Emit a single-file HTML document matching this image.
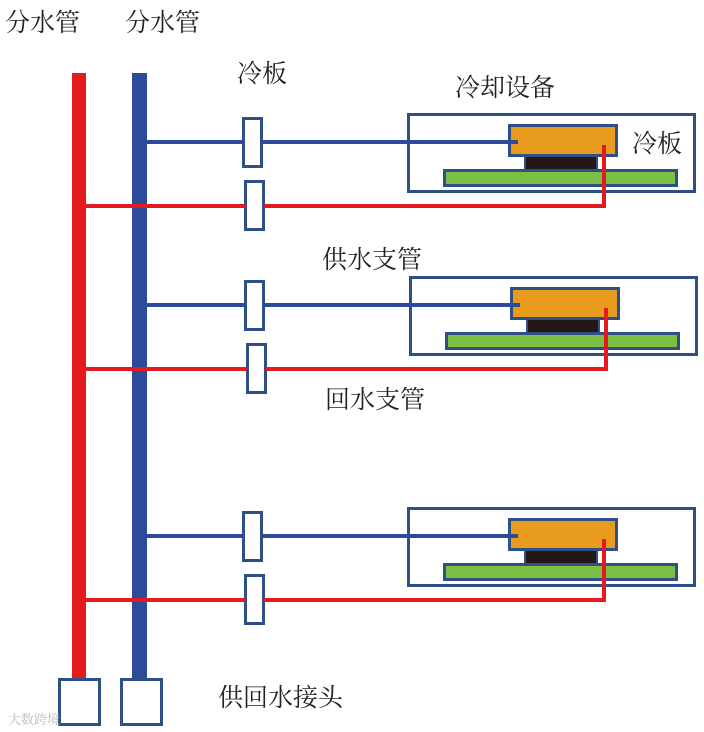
<!DOCTYPE html>
<html><head><meta charset="utf-8"><style>
html,body{margin:0;padding:0;background:#fff;}
svg{display:block;}
text{font-family:"Liberation Serif","Noto Serif CJK SC",serif;font-size:25px;fill:#222;}
</style></head><body>
<svg width="704" height="732" viewBox="0 0 704 732" xmlns="http://www.w3.org/2000/svg">
<defs>
<g id="unit">
  <rect x="243.5" y="118.5" width="18" height="48" fill="#fff" stroke="#2e5086" stroke-width="3"/>
  <rect x="245.5" y="181.5" width="18" height="48" fill="#fff" stroke="#2e5086" stroke-width="3"/>
  <line x1="138" y1="142" x2="243" y2="142" stroke="#2e4a9a" stroke-width="4"/>
  <line x1="262" y1="142" x2="518" y2="142" stroke="#2e4a9a" stroke-width="4"/>
  <line x1="78" y1="206" x2="245" y2="206" stroke="#e31b1f" stroke-width="4"/>
  <line x1="264" y1="206" x2="606" y2="206" stroke="#e31b1f" stroke-width="4"/>
  <rect x="408.5" y="114.5" width="286" height="77" fill="none" stroke="#2e5086" stroke-width="3"/>
  <rect x="444.5" y="170.5" width="232" height="15" fill="#7dbf42" stroke="#2e5086" stroke-width="3"/>
  <rect x="525" y="156" width="72" height="14" fill="#231815" stroke="#2e5086" stroke-width="2"/>
  <rect x="509.5" y="125.5" width="107" height="30" fill="#e79c1e" stroke="#2e5086" stroke-width="3"/>
  <line x1="508" y1="142" x2="518" y2="142" stroke="#2e4a9a" stroke-width="4"/>
  <line x1="604" y1="145" x2="604" y2="208" stroke="#e31b1f" stroke-width="4"/>
</g>
</defs>
<rect x="72" y="73" width="14" height="606" fill="#e31b1f"/>
<rect x="132" y="73" width="15" height="606" fill="#2e4a9a"/>
<use href="#unit"/>
<use href="#unit" transform="translate(2,163)"/>
<use href="#unit" transform="translate(0,394)"/>
<rect x="132" y="73" width="15" height="606" fill="#2e4a9a"/>
<line x1="86" y1="206" x2="147" y2="206" stroke="#e31b1f" stroke-width="4"/>
<line x1="86" y1="369" x2="147" y2="369" stroke="#e31b1f" stroke-width="4"/>
<line x1="86" y1="600" x2="147" y2="600" stroke="#e31b1f" stroke-width="4"/>
<rect x="59.5" y="679.5" width="40" height="45" fill="#fff" stroke="#2e5086" stroke-width="3"/>
<rect x="121.5" y="679.5" width="40" height="45" fill="#fff" stroke="#2e5086" stroke-width="3"/>
<text x="5" y="31">分水管</text>
<text x="125" y="31">分水管</text>
<text x="237" y="82">冷板</text>
<text x="455" y="96">冷却设备</text>
<text x="632" y="152">冷板</text>
<text x="322" y="268">供水支管</text>
<text x="325" y="408">回水支管</text>
<text x="218" y="706">供回水接头</text>
<text x="8" y="724" style="font-size:13px;fill:#bbb">大数跨境</text>
</svg>
</body></html>
